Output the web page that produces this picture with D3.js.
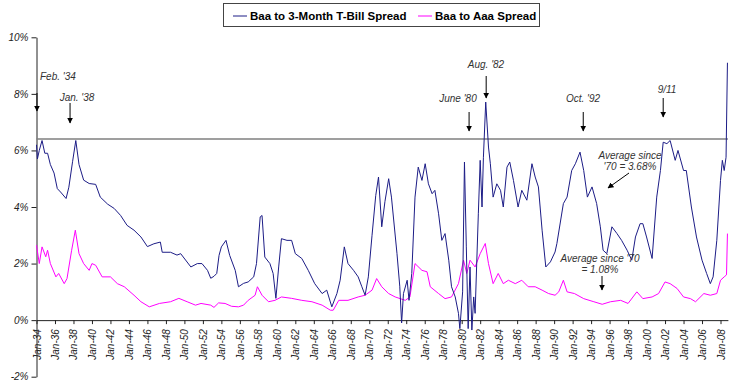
<!DOCTYPE html>
<html>
<head>
<meta charset="utf-8">
<script src="https://cdn.jsdelivr.net/npm/d3@7"></script>
<style>
  body { margin: 0; background: #fff; }
  text { font-family: "Liberation Sans", Arial, sans-serif; }
</style>
</head>
<body>
<div id="chart"></div>
<script>
// series values (decimal year, percent)
var tbillYears = [1934.0, 1934.1, 1934.3, 1934.6, 1934.9, 1935.2, 1935.5, 1935.9, 1936.25, 1936.6,
  1937.2, 1937.5, 1937.9, 1938.25, 1938.6, 1939.1, 1939.7, 1940.4, 1940.9, 1941.7,
  1942.4, 1943.1, 1943.8, 1944.55, 1945.3, 1946.0, 1946.7, 1947.4, 1947.6, 1948.5,
  1949.2, 1949.6, 1950.7, 1951.4, 1951.9, 1952.5, 1952.85, 1953.2, 1953.5, 1953.75,
  1954.0, 1954.5, 1954.9, 1955.5, 1955.85, 1956.4, 1956.9, 1957.5, 1957.8, 1958.2,
  1958.4, 1958.7, 1959.25, 1959.6, 1959.9, 1960.2, 1960.5, 1961.1, 1961.6, 1962.0,
  1962.7, 1963.4, 1964.1, 1964.9, 1965.4, 1965.95, 1966.5, 1966.85, 1967.3, 1967.7,
  1968.3, 1968.8, 1969.2, 1969.55, 1969.9, 1970.3, 1970.7, 1971.0, 1971.35, 1971.7,
  1972.1, 1972.4, 1973.0, 1973.3, 1973.5, 1973.7, 1974.1, 1974.3, 1974.6, 1974.95,
  1975.3, 1975.7, 1976.05, 1976.4, 1976.8, 1977.1, 1977.5, 1977.85, 1978.2, 1978.6,
  1978.9, 1979.3, 1979.65, 1979.8, 1980.1, 1980.3, 1980.5, 1980.7, 1980.9, 1981.1,
  1981.3, 1981.45, 1981.8, 1982.0, 1982.2, 1982.35, 1982.6, 1982.9, 1983.1, 1983.4,
  1983.8, 1984.2, 1984.5, 1984.9, 1985.2, 1985.6, 1986.1, 1986.5, 1987.05, 1987.6,
  1987.95, 1988.3, 1988.7, 1989.1, 1989.6, 1990.1, 1990.3, 1991.0, 1991.4, 1991.9,
  1992.3, 1992.8, 1993.2, 1993.6, 1994.1, 1994.6, 1995.0, 1995.3, 1995.7, 1996.25,
  1996.8, 1997.3, 1997.9, 1998.4, 1998.8, 1999.3, 1999.6, 2000.0, 2000.6, 2001.1,
  2001.5, 2001.8, 2002.2, 2002.55, 2003.1, 2003.4, 2004.0, 2004.3, 2004.85, 2005.4,
  2006.0, 2006.5, 2006.9, 2007.2, 2007.6, 2008.0, 2008.2, 2008.4, 2008.6, 2008.75];
var tbillSpread = [6.2, 5.7, 6.0, 6.35, 5.9, 5.9, 5.5, 5.2, 4.65, 4.53,
  4.3, 4.7, 5.6, 6.35, 5.5, 4.95, 4.83, 4.8, 4.35, 4.1,
  3.95, 3.7, 3.35, 3.18, 2.94, 2.6, 2.7, 2.76, 2.4, 2.4,
  2.3, 2.35, 1.88, 2.0, 2.0, 1.76, 1.48, 1.55, 1.65, 2.29,
  2.59, 2.82, 2.29, 1.76, 1.18, 1.3, 1.35, 1.53, 2.0, 3.65,
  3.7, 2.23, 2.0, 1.65, 0.77, 1.88, 2.88, 2.82, 2.82, 2.35,
  2.18, 1.76, 1.29, 0.94, 1.06, 0.47, 0.94, 1.41, 2.59, 2.0,
  1.76, 1.53, 1.18, 0.88, 1.53, 3.0, 4.4, 5.06, 3.3, 4.2,
  5.0, 4.35, 2.35, 1.2, -0.1, 0.94, 1.41, 0.7, 1.65, 4.35,
  5.41, 4.94, 5.53, 4.82, 4.47, 4.59, 3.76, 2.82, 3.06, 2.12,
  1.18, 0.82, 0.24, -0.3, 1.0, 5.59, 2.59, -0.3, 1.88, -0.35,
  0.82, 0.24, 3.76, 5.65, 4.0, 5.76, 7.71, 6.12, 5.53, 4.35,
  4.82, 4.59, 4.0, 5.41, 5.59, 4.94, 4.0, 4.59, 4.24, 5.53,
  5.06, 4.71, 3.18, 1.88, 2.06, 2.41, 2.71, 4.12, 4.35, 5.29,
  5.53, 5.94, 5.29, 4.35, 4.71, 4.12, 3.3, 2.47, 2.35, 3.3,
  3.06, 2.82, 2.47, 2.12, 2.94, 3.41, 3.41, 2.94, 2.18, 4.35,
  5.29, 6.29, 6.24, 6.35, 5.65, 6.0, 5.29, 5.29, 4.0, 2.94,
  2.12, 1.65, 1.29, 1.53, 2.82, 4.94, 5.65, 5.29, 5.76, 9.1];

var aaaYears = [1934.0, 1934.3, 1934.6, 1935.0, 1935.2, 1935.5, 1936.1, 1936.4, 1937.0, 1937.3,
  1937.8, 1938.2, 1938.6, 1939.1, 1939.7, 1940.0, 1940.4, 1941.1, 1942.0, 1942.75,
  1943.5, 1944.55, 1945.3, 1946.2, 1947.3, 1948.5, 1949.4, 1950.3, 1951.2, 1951.8,
  1952.85, 1953.2, 1953.7, 1954.4, 1955.1, 1955.85, 1956.4, 1956.9, 1957.65, 1957.9,
  1958.4, 1959.1, 1959.8, 1960.5, 1961.6, 1962.7, 1963.8, 1964.9, 1965.8, 1966.1,
  1966.7, 1967.7, 1968.8, 1969.55, 1970.3, 1970.8, 1971.35, 1972.1, 1972.8, 1973.9,
  1974.4, 1974.95, 1975.7, 1976.25, 1976.6, 1977.5, 1978.2, 1978.9, 1979.65, 1980.2,
  1980.55, 1980.9, 1981.45, 1982.0, 1982.55, 1982.9, 1983.4, 1983.95, 1984.5, 1985.05,
  1985.8, 1986.5, 1987.2, 1987.95, 1988.7, 1989.4, 1990.1, 1990.5, 1991.0, 1991.4,
  1992.2, 1993.2, 1994.3, 1995.2, 1996.1, 1997.2, 1998.0, 1998.95, 1999.6, 2000.6,
  2001.3, 2002.0, 2002.55, 2003.3, 2004.0, 2004.75, 2005.3, 2006.2, 2006.9, 2007.6,
  2008.0, 2008.4, 2008.65, 2008.75];
var aaaSpread = [2.65, 2.0, 2.59, 2.24, 2.47, 2.0, 1.53, 1.65, 1.29, 1.47,
  2.47, 3.18, 2.35, 2.0, 1.76, 2.0, 1.94, 1.53, 1.53, 1.29,
  1.18, 0.88, 0.65, 0.47, 0.59, 0.65, 0.77, 0.65, 0.53, 0.59,
  0.53, 0.45, 0.61, 0.59, 0.49, 0.47, 0.53, 0.7, 0.88, 1.18,
  0.88, 0.65, 0.7, 0.82, 0.77, 0.7, 0.65, 0.53, 0.35, 0.35,
  0.7, 0.7, 0.82, 0.88, 1.06, 1.47, 1.18, 0.94, 0.82, 0.7,
  0.82, 2.0, 1.76, 1.71, 1.18, 0.94, 0.76, 0.82, 1.29, 2.12,
  1.65, 2.12, 1.88, 2.35, 2.71, 2.0, 1.29, 1.65, 1.29, 1.41,
  1.29, 1.41, 1.18, 1.18, 1.06, 0.94, 0.88, 1.0, 1.41, 1.0,
  0.94, 0.76, 0.65, 0.56, 0.65, 0.7, 0.59, 1.0, 0.76, 0.82,
  0.94, 1.35, 1.29, 1.12, 0.82, 0.76, 0.65, 0.94, 0.88, 0.94,
  1.41, 1.53, 1.6, 3.06];

var seriesNames = ["Baa to 3-Month T-Bill Spread", "Baa to Aaa Spread"];
var yTicks = [-2, 0, 2, 4, 6, 8, 10];
var xTickYears = d3.range(1934, 2009, 2);
var refLevel = 6.4;
var eventLabels = ["Feb. '34", "Jan. '38", "June '80", "Aug. '82", "Oct. '92", "9/11"];
var eventYears = [1934.05, 1937.63, 1980.8, 1982.65, 1993.15, 2001.8];

var svgWidth = 753;
var svgHeight = 389;

var x = d3.scaleLinear().domain([1934, 2008.8]).range([36.5, 727.9]);
var y = d3.scaleLinear().domain([-2, 10]).range([376.7, 37.3]);

var svg = d3.select("#chart").append("svg")
  .attr("width", svgWidth)
  .attr("height", svgHeight);

// arrow head
svg.append("defs").append("marker")
  .attr("id", "head")
  .attr("viewBox", "0 0 10 10")
  .attr("refX", 9).attr("refY", 5)
  .attr("markerWidth", 6).attr("markerHeight", 6)
  .attr("orient", "auto")
  .append("path").attr("d", "M0,0L10,5L0,10z").attr("fill", "#000");

// axes
var yAxis = d3.axisLeft(y).tickValues(yTicks).tickSize(5).tickSizeOuter(0)
  .tickFormat(d => d + "%");
var yg = svg.append("g").attr("transform", "translate(36.5,0)").call(yAxis);
yg.selectAll("text").attr("font-size", "10px").attr("font-style", "italic").attr("fill", "#222");
yg.selectAll("line,path").attr("stroke", "#222");

var xAxis = d3.axisBottom(x).tickValues(xTickYears).tickSize(4).tickSizeOuter(0)
  .tickFormat(d => "Jan-" + String(d).slice(2));
var xg = svg.append("g").attr("transform", `translate(0,${y(0)})`).call(xAxis);
xg.selectAll("line,path").attr("stroke", "#222");
xg.selectAll("text")
  .attr("font-size", "10px")
  .attr("font-style", "italic")
  .attr("fill", "#222")
  .attr("text-anchor", "end")
  .attr("transform", "rotate(-90)")
  .attr("x", -9)
  .attr("y", 0)
  .attr("dy", "0.35em");

// reference level line
svg.append("line")
  .attr("x1", x(1934)).attr("x2", x(2008.8))
  .attr("y1", y(refLevel)).attr("y2", y(refLevel))
  .attr("stroke", "#7f7f7f").attr("stroke-width", 1.5);

// series
var line = d3.line().x(d => x(d[0])).y(d => y(d[1]));

var aaaData = aaaYears.map((t, i) => [t, aaaSpread[i]]);
var tbillData = tbillYears.map((t, i) => [t, tbillSpread[i]]);

svg.append("path").datum(aaaData)
  .attr("d", line).attr("fill", "none")
  .attr("stroke", "#ff00ff").attr("stroke-width", 1);

svg.append("path").datum(tbillData)
  .attr("d", line).attr("fill", "none")
  .attr("stroke", "#1c1c86").attr("stroke-width", 1);

// annotations
var annot = svg.append("g")
  .attr("font-size", "10px").attr("font-style", "italic").attr("fill", "#333");

var labelPos = [
  {tx: 40, ty: 80, anchor: "start", y1: 93, y2: 111},
  {tx: 77, ty: 101, anchor: "middle", y1: 103, y2: 123},
  {tx: 458, ty: 102, anchor: "middle", y1: 112, y2: 131},
  {tx: 486, ty: 68, anchor: "middle", y1: 76, y2: 98},
  {tx: 583, ty: 102, anchor: "middle", y1: 112, y2: 131},
  {tx: 667, ty: 93, anchor: "middle", y1: 98, y2: 117}
];

eventLabels.forEach(function(lbl, i) {
  var p = labelPos[i];
  annot.append("text").attr("x", p.tx).attr("y", p.ty)
    .attr("text-anchor", p.anchor).text(lbl);
  svg.append("line")
    .attr("x1", x(eventYears[i])).attr("x2", x(eventYears[i]))
    .attr("y1", p.y1).attr("y2", p.y2)
    .attr("stroke", "#000").attr("stroke-width", 1)
    .attr("marker-end", "url(#head)");
});

annot.append("text").attr("x", 630).attr("y", 159).attr("text-anchor", "middle").text("Average since");
annot.append("text").attr("x", 630).attr("y", 170).attr("text-anchor", "middle").text("'70 = 3.68%");
svg.append("line")
  .attr("x1", 629).attr("y1", 173).attr("x2", 608).attr("y2", 188)
  .attr("stroke", "#000").attr("marker-end", "url(#head)");

annot.append("text").attr("x", 600).attr("y", 262).attr("text-anchor", "middle").text("Average since '70");
annot.append("text").attr("x", 600).attr("y", 273).attr("text-anchor", "middle").text("= 1.08%");
svg.append("line")
  .attr("x1", 602).attr("y1", 276).attr("x2", 602).attr("y2", 290)
  .attr("stroke", "#000").attr("marker-end", "url(#head)");

// legend
var legend = svg.append("g");
legend.append("rect")
  .attr("x", 223.5).attr("y", 3.5).attr("width", 316).attr("height", 23)
  .attr("fill", "#fff").attr("stroke", "#444");

var legendColors = ["#1c1c86", "#ff00ff"];
var legendX = [233, 418];
seriesNames.forEach(function(name, i) {
  legend.append("line")
    .attr("x1", legendX[i]).attr("x2", legendX[i] + 14)
    .attr("y1", 16).attr("y2", 16)
    .attr("stroke", legendColors[i]).attr("stroke-width", 1);
  legend.append("text")
    .attr("x", legendX[i] + 17).attr("y", 20)
    .attr("font-size", "11.5px").attr("font-weight", "bold").attr("fill", "#000")
    .text(name);
});
</script>
</body>
</html>
